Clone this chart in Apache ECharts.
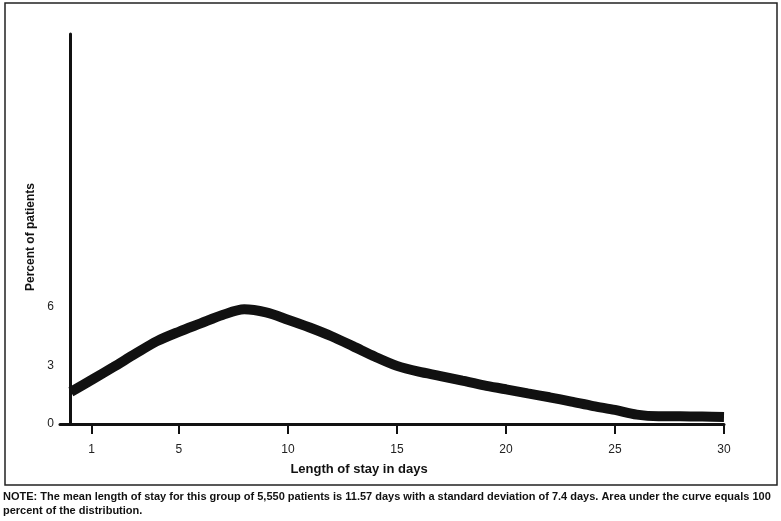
<!DOCTYPE html>
<html>
<head>
<meta charset="utf-8">
<script src="https://cdn.jsdelivr.net/npm/echarts@6/dist/echarts.min.js"></script>
<style>
  html, body { margin: 0; padding: 0; background: #fff; }
  #chart { width: 781px; height: 521px; }
</style>
</head>
<body>
<div id="chart"></div>
<script>
// length of stay (days) and percent of patients
const days = [0.05, 1, 2, 3, 4, 5, 6, 7, 8, 9, 10, 11, 12, 13, 14, 15, 16, 17, 18, 19, 20, 21, 22, 23, 24, 25, 26, 27, 28, 29, 30]
const percent = [1.65, 2.26, 2.92, 3.6, 4.25, 4.73, 5.16, 5.59, 5.88, 5.72, 5.35, 4.95, 4.5, 3.98, 3.45, 2.98, 2.68, 2.46, 2.22, 1.98, 1.78, 1.57, 1.37, 1.15, 0.92, 0.72, 0.48, 0.4, 0.4, 0.38, 0.36]
const xTicks = [1, 5, 10, 15, 20, 25, 30]
const yTicks = [0, 3, 6]

const xName = 'Length of stay in days'
const yName = 'Percent of patients'
const note = 'NOTE: The mean length of stay for this group of 5,550 patients is 11.57 days with a standard deviation of 7.4 days. Area under the curve equals 100'
const note2 = 'percent of the distribution.'

const chart = echarts.init(document.getElementById('chart'))

const option = {
  animation: false,
  backgroundColor: '#fff',
  grid: {
    left: 60,
    right: 57,
    top: 34,
    bottom: 97
  },
  xAxis: {
    type: 'value',
    min: -0.45,
    max: 30,
    axisLine: {
      show: true,
      onZero: false,
      lineStyle: { color: '#111', width: 3 }
    },
    axisTick: {
      show: true,
      customValues: xTicks,
      length: 10,
      lineStyle: { color: '#111', width: 2 }
    },
    axisLabel: {
      customValues: xTicks,
      margin: 20,
      color: '#222',
      fontFamily: 'Liberation Sans',
      fontSize: 12
    },
    splitLine: { show: false }
  },
  yAxis: {
    type: 'value',
    min: 0,
    max: 20,
    name: yName,
    nameLocation: 'middle',
    nameGap: 23,
    nameTextStyle: {
      color: '#111',
      fontFamily: 'Liberation Sans',
      fontWeight: 'bold',
      fontSize: 12,
      padding: [0, 16, 0, 0]
    },
    axisLine: {
      show: true,
      onZero: true,
      lineStyle: { color: '#111', width: 3 }
    },
    axisTick: { show: false },
    axisLabel: {
      customValues: yTicks,
      margin: 6,
      color: '#222',
      fontFamily: 'Liberation Sans',
      fontSize: 12
    },
    splitLine: { show: false }
  },
  series: [{
    type: 'line',
    data: days.map((d, i) => [d, percent[i]]),
    smooth: 0.3,
    showSymbol: false,
    lineStyle: { color: '#111', width: 10 },
    z: 3
  }],
  graphic: [
    {
      type: 'rect',
      shape: { x: 5, y: 3, width: 772, height: 482 },
      style: { fill: 'none', stroke: '#222', lineWidth: 1.5 },
      silent: true
    },
    {
      type: 'text',
      x: 359,
      y: 469,
      style: {
        text: xName,
        align: 'center',
        verticalAlign: 'middle',
        fill: '#111',
        font: 'bold 13px "Liberation Sans"'
      }
    },
    {
      type: 'text',
      x: 3,
      y: 497,
      style: {
        text: note,
        verticalAlign: 'middle',
        fill: '#111',
        font: 'bold 11px "Liberation Sans Narrow", "Liberation Sans"'
      }
    },
    {
      type: 'text',
      x: 3,
      y: 511,
      style: {
        text: note2,
        verticalAlign: 'middle',
        fill: '#111',
        font: 'bold 11px "Liberation Sans Narrow", "Liberation Sans"'
      }
    }
  ]
}

chart.setOption(option)
</script>
</body>
</html>
